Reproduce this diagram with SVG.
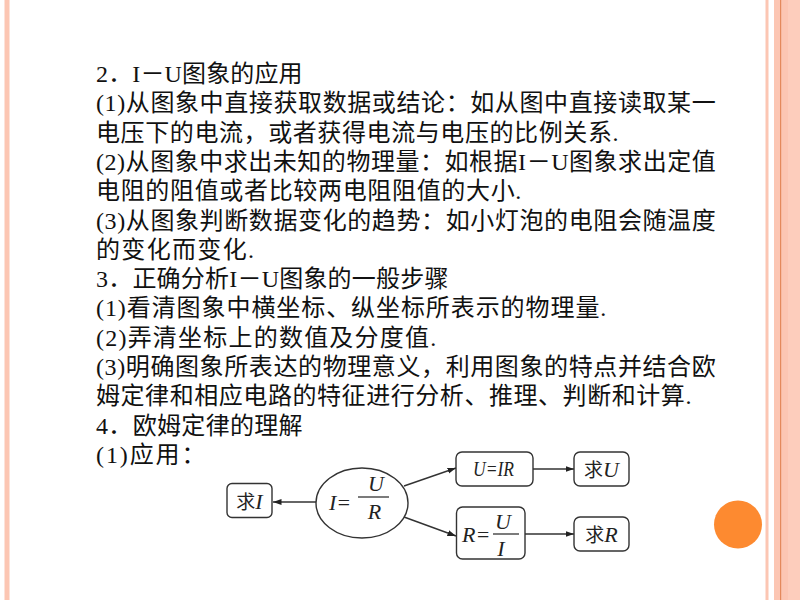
<svg xmlns="http://www.w3.org/2000/svg" width="800" height="600" viewBox="0 0 800 600">
<defs>
<style>
.t{font-family:"Liberation Serif","Noto Sans CJK SC",serif;font-size:24px;fill:#111;}
.box{fill:#fff;stroke:#333;stroke-width:1.4;}
.lbl{font-family:"Liberation Serif","Noto Sans CJK SC",serif;font-size:22px;fill:#222;}
.cn{font-family:"Noto Sans CJK SC",sans-serif;font-size:19px;}
.it{font-family:"Liberation Serif",serif;font-style:italic;font-size:22px;fill:#222;}
.bar{stroke:#333;stroke-width:1.3;}
.con{stroke:#333;stroke-width:1.4;fill:none;marker-end:url(#ah);}
</style>
<marker id="ah" markerUnits="userSpaceOnUse" markerWidth="9" markerHeight="7" refX="8.5" refY="3.5" orient="auto">
<path d="M0,0.5 L8.5,3.5 L0,6.5 Z" fill="#222"/>
</marker>
</defs>
<rect width="800" height="600" fill="#fff"/>
<g id="decor">
<rect x="4.5" y="0" width="5" height="600" fill="#fcc6b3"/>
<rect x="765.5" y="0" width="3" height="600" fill="#fcc6b3"/>
<rect x="774" y="0" width="26" height="600" fill="#fcc6b3"/>
<rect x="788" y="0" width="12" height="600" fill="#fdcdbc"/>
<rect x="780" y="0" width="1.2" height="600" fill="#e4895c"/>
<circle cx="738" cy="524.5" r="24" fill="#fd8a30"/>
</g>
<g id="text">
<text class="t" x="96" y="82" textLength="206.6" lengthAdjust="spacing">2．I－U图象的应用</text>
<text class="t" x="96" y="111.3" textLength="619.7" lengthAdjust="spacing">(1)从图象中直接获取数据或结论：如从图中直接读取某一</text>
<text class="t" x="96" y="140.6" textLength="522.5" lengthAdjust="spacing">电压下的电流，或者获得电流与电压的比例关系.</text>
<text class="t" x="96" y="169.9" textLength="619.7" lengthAdjust="spacing">(2)从图象中求出未知的物理量：如根据I－U图象求出定值</text>
<text class="t" x="96" y="199.2" textLength="425.3" lengthAdjust="spacing">电阻的阻值或者比较两电阻阻值的大小.</text>
<text class="t" x="96" y="228.5" textLength="619.7" lengthAdjust="spacing">(3)从图象判断数据变化的趋势：如小灯泡的电阻会随温度</text>
<text class="t" x="96" y="257.8" textLength="158" lengthAdjust="spacing">的变化而变化.</text>
<text class="t" x="96" y="287.1" textLength="352.4" lengthAdjust="spacing">3．正确分析I－U图象的一般步骤</text>
<text class="t" x="96" y="316.4" textLength="510.3" lengthAdjust="spacing">(1)看清图象中横坐标、纵坐标所表示的物理量.</text>
<text class="t" x="96" y="345.7" textLength="340.2" lengthAdjust="spacing">(2)弄清坐标上的数值及分度值.</text>
<text class="t" x="96" y="375" textLength="619.7" lengthAdjust="spacing">(3)明确图象所表达的物理意义，利用图象的特点并结合欧</text>
<text class="t" x="96" y="404.3" textLength="595.4" lengthAdjust="spacing">姆定律和相应电路的特征进行分析、推理、判断和计算.</text>
<text class="t" x="96" y="433.6" textLength="206.6" lengthAdjust="spacing">4．欧姆定律的理解</text>
<text class="t" x="96" y="462.9" textLength="109.4" lengthAdjust="spacing">(1)应用：</text>
</g>
<g id="connectors">
<line class="con" x1="316" y1="502" x2="273" y2="502"/>
<line class="con" x1="404" y1="486" x2="456" y2="468"/>
<line class="con" x1="404" y1="517" x2="456" y2="536"/>
<line class="con" x1="533" y1="469" x2="574" y2="469"/>
<line class="con" x1="525" y1="534" x2="574" y2="534"/>
</g>
<g id="node-qiuI">
<rect class="box" x="227" y="483.5" width="45" height="34" rx="5"/>
<text class="lbl" x="249.5" y="509" text-anchor="middle"><tspan class="cn">求</tspan><tspan font-style="italic">I</tspan></text>
</g>
<g id="node-ohm">
<ellipse class="box" cx="362" cy="503" rx="46" ry="35"/>
<text class="it" x="329" y="510">I=</text>
<line class="bar" x1="358" y1="497" x2="389" y2="497"/>
<text class="it" x="376" y="491" text-anchor="middle">U</text>
<text class="it" x="374.5" y="519" text-anchor="middle">R</text>
</g>
<g id="node-UIR">
<rect class="box" x="456" y="452" width="77" height="34" rx="6"/>
<text class="it" x="473" y="476" textLength="41" lengthAdjust="spacingAndGlyphs">U=IR</text>
</g>
<g id="node-qiuU">
<rect class="box" x="574" y="452" width="55" height="34" rx="6"/>
<text class="lbl" x="601.5" y="477" text-anchor="middle"><tspan class="cn">求</tspan><tspan font-style="italic">U</tspan></text>
</g>
<g id="node-RUI">
<rect class="box" x="456.5" y="507" width="68.5" height="52" rx="6"/>
<text class="it" x="462" y="542">R=</text>
<line class="bar" x1="493" y1="534" x2="519" y2="534"/>
<text class="it" x="503" y="529" text-anchor="middle">U</text>
<text class="it" x="501" y="556" text-anchor="middle">I</text>
</g>
<g id="node-qiuR">
<rect class="box" x="574" y="517" width="55" height="34" rx="6"/>
<text class="lbl" x="601.5" y="542" text-anchor="middle"><tspan class="cn">求</tspan><tspan font-style="italic">R</tspan></text>
</g>
</svg>
